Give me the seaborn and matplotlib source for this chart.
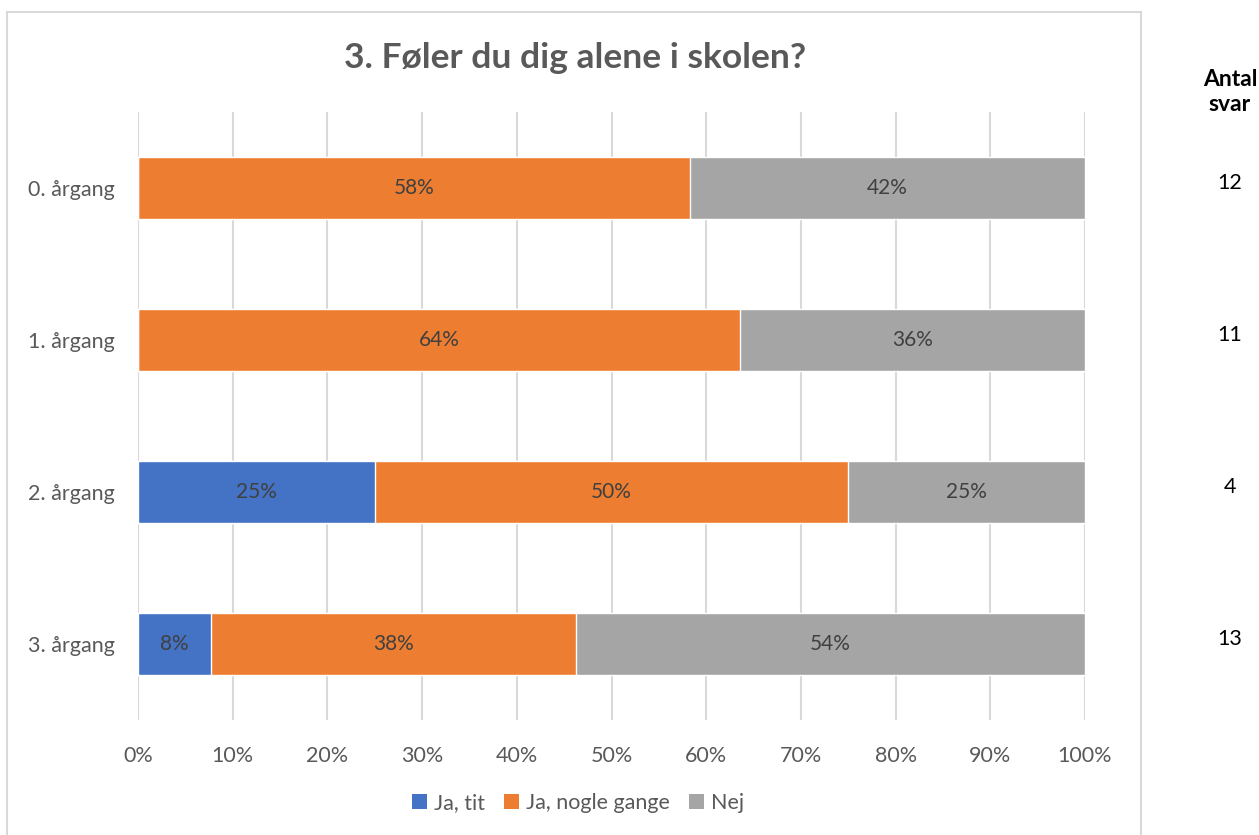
import matplotlib
matplotlib.use("Agg")
import matplotlib.pyplot as plt
import matplotlib.transforms as mtrans
import seaborn as sns
import pandas as pd
from matplotlib.patches import Patch, Rectangle

categories = ["0. årgang", "1. årgang", "2. årgang", "3. årgang"]
ja_tit = [0.0, 0.0, 25.0, 7.7]
ja_nogle = [58.3, 63.6, 50.0, 38.5]
nej = [41.7, 36.4, 25.0, 53.8]
antal_svar = [12, 11, 4, 13]
series_names = ["Ja, tit", "Ja, nogle gange", "Nej"]
colors = ["#4472C4", "#ED7D31", "#A5A5A5"]
xticks = list(range(0, 101, 10))

sns.set_theme(style="white")
plt.rcParams['font.family'] = ['Lato', 'DejaVu Sans']

df = pd.DataFrame({"cat": categories, "a": ja_tit, "b": ja_nogle, "c": nej})
df["cum_b"] = df["a"] + df["b"]
df["cum_c"] = df["cum_b"] + df["c"]

fig = plt.figure(figsize=(12.59, 8.35), dpi=100)
ax = fig.add_axes([138/1259, 115/835, (1085-138)/1259, (720-112)/835])

txt = "#595959"
for col, color in [("cum_c", colors[2]), ("cum_b", colors[1]), ("a", colors[0])]:
    sns.barplot(data=df, x=col, y="cat", order=categories, orient="h",
                color=color, width=0.41, saturation=1, ax=ax, zorder=3)

# data labels
for i, cat in enumerate(categories):
    left = 0
    for v in (ja_tit[i], ja_nogle[i], nej[i]):
        if v > 0:
            ax.text(left + v/2, i, f"{round(v):.0f}%", ha="center", va="center",
                    fontsize=15, color="#404040", zorder=5)
        left += v

ax.set_xlim(0, 100)
ax.set_ylim(3.5, -0.5)
ax.set_xticks(xticks)
ax.set_xticklabels([f"{t}%" for t in xticks])
ax.tick_params(axis="x", length=0, pad=19, labelsize=15.5, labelcolor=txt)
ax.tick_params(axis="y", length=0, pad=17, labelsize=15.5, labelcolor=txt)
ax.set_xlabel("")
ax.set_ylabel("")
for s in ax.spines.values():
    s.set_visible(False)
ax.grid(axis="x", color="#D9D9D9", linewidth=1.5, zorder=0)
ax.set_axisbelow(True)

# chart border
fig.patches.append(Rectangle((7/1259, -0.05), (1141-7)/1259, 1.05 - 12/835,
                             transform=fig.transFigure, fill=False,
                             edgecolor="#D9D9D9", linewidth=1.5, clip_on=False))

fig.text(575/1259, 1 - 58/835, "3. Føler du dig alene i skolen?", ha="center", va="center",
         fontsize=25.5, fontweight="bold", color=txt)

handles = [Patch(facecolor=c, edgecolor="none") for c in colors]
fig.legend(handles, series_names, loc="center", bbox_to_anchor=(578/1259, 1 - 803/835),
           ncol=3, frameon=False, fontsize=15.5, handlelength=0.7, handleheight=0.7,
           handletextpad=0.3, columnspacing=0.9, labelcolor=txt)

fig.text(1230/1259, 1 - 92/835, "Antal\nsvar", ha="center", va="center",
         fontsize=16.5, fontweight="bold", color="black", linespacing=1.2)
trans = mtrans.blended_transform_factory(fig.transFigure, ax.transData)
for i, n in enumerate(antal_svar):
    ax.text(1230/1259, i - 0.03, str(n), transform=trans, ha="center", va="center",
            fontsize=15.5, color="black", clip_on=False)

fig.savefig("out.png", dpi=100)
